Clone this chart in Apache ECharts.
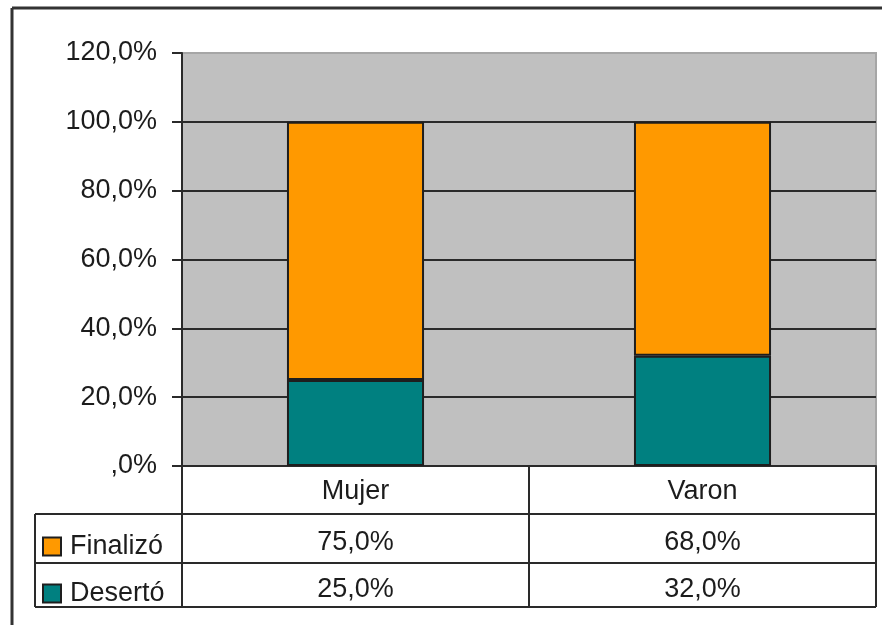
<!DOCTYPE html>
<html>
<head>
<meta charset="utf-8">
<style>
  html, body { margin: 0; padding: 0; background: #ffffff; }
  #chart { width: 882px; height: 625px; }
</style>
<script src="https://cdn.jsdelivr.net/npm/echarts@6/dist/echarts.min.js"></script>
</head>
<body>
<div id="chart"></div>
<script>
// Categories and series values (percent)
const categories = ['Mujer', 'Varon'];
const finalizo = [75.0, 68.0];
const deserto = [25.0, 32.0];
const seriesNames = ['Finalizó', 'Desertó'];
const yTicks = [0, 20, 40, 60, 80, 100, 120];

const FONT = 'Liberation Sans, Arial, sans-serif';
const TEXT = '#1c1c1c';
const FS = 27;

// Plot area geometry
const G = { left: 182, top: 53, right: 6, bottom: 159 };
const W = 882, H = 625;
const gx0 = G.left, gx1 = W - G.right, gy1 = H - G.bottom;
const rowY = [gy1, gy1 + 48, gy1 + 97, gy1 + 141]; // table row boundaries
const tableLeft = 35;
const midX = (gx0 + gx1) / 2;

const fmt = v => v.toFixed(1).replace('.', ',') + '%';
const fmtTick = v => (v === 0 ? ',0' : v.toFixed(1).replace('.', ',')) + '%';

const chart = echarts.init(document.getElementById('chart'), null, { renderer: 'canvas' });

const lineStyle = { stroke: '#2a2a2a', lineWidth: 2 };
const hLine = (x1, x2, y) => ({ type: 'line', shape: { x1, y1: y, x2, y2: y }, style: lineStyle, silent: true });
const vLine = (x, y1, y2) => ({ type: 'line', shape: { x1: x, y1, x2: x, y2 }, style: lineStyle, silent: true });

const labelAxis = (margin, formatter) => ({
  type: 'category',
  data: categories,
  position: 'bottom',
  axisLine: { show: false },
  axisTick: { show: false },
  splitLine: { show: false },
  axisLabel: {
    margin,
    verticalAlign: 'middle',
    fontFamily: FONT, fontSize: FS, color: TEXT,
    formatter
  }
});

chart.setOption({
  animation: false,
  backgroundColor: '#ffffff',
  textStyle: { fontFamily: FONT },
  grid: {
    left: G.left, top: G.top, right: G.right, bottom: G.bottom,
    show: true, backgroundColor: '#c0c0c0', borderColor: '#a6a6a6', borderWidth: 2
  },
  legend: {
    data: seriesNames,
    orient: 'vertical',
    left: 37,
    top: rowY[1] + 14,
    itemWidth: 18,
    itemHeight: 18,
    itemGap: 20,
    icon: 'rect',
    selectedMode: false,
    textStyle: { fontFamily: FONT, fontSize: FS, color: TEXT, padding: [0, 0, 0, 4] }
  },
  xAxis: [
    {
      type: 'category',
      data: categories,
      axisLine: { show: true, lineStyle: { color: '#2a2a2a', width: 2 } },
      axisTick: { show: false },
      axisLabel: { margin: 26, verticalAlign: 'middle', fontFamily: FONT, fontSize: FS, color: TEXT }
    },
    labelAxis(77, (v, i) => fmt(finalizo[i])),
    labelAxis(124, (v, i) => fmt(deserto[i]))
  ],
  yAxis: {
    type: 'value',
    min: yTicks[0],
    max: yTicks[yTicks.length - 1],
    interval: 20,
    axisLine: { show: true, lineStyle: { color: '#2a2a2a', width: 2 } },
    axisTick: { show: true, length: 10, lineStyle: { color: '#2a2a2a', width: 2 } },
    axisLabel: {
      margin: 25, fontFamily: FONT, fontSize: FS, color: TEXT,
      padding: [5, 0, 0, 0],
      formatter: v => fmtTick(v)
    },
    splitLine: { show: true, showMinLine: false, showMaxLine: false, lineStyle: { color: '#2a2a2a', width: 2 } }
  },
  series: [
    {
      name: seriesNames[1],
      type: 'bar',
      stack: 'total',
      barWidth: '39.5%',
      data: deserto,
      itemStyle: { color: '#008080', borderColor: '#1e1e1e', borderWidth: 2 }
    },
    {
      name: seriesNames[0],
      type: 'bar',
      stack: 'total',
      barWidth: '39.5%',
      data: finalizo,
      itemStyle: { color: '#ff9900', borderColor: '#1e1e1e', borderWidth: 2 }
    }
  ],
  graphic: [
    // outer frame
    { type: 'line', shape: { x1: 12, y1: 8, x2: W, y2: 8 }, style: { stroke: '#333', lineWidth: 3 }, silent: true },
    { type: 'line', shape: { x1: 12, y1: 8, x2: 12, y2: H }, style: { stroke: '#333', lineWidth: 3 }, silent: true },
    // data table grid
    vLine(gx0, rowY[0], rowY[3]),
    vLine(midX, rowY[0], rowY[3]),
    vLine(gx1, rowY[0], rowY[3]),
    vLine(tableLeft, rowY[1], rowY[3]),
    hLine(tableLeft, gx1, rowY[1]),
    hLine(tableLeft, gx1, rowY[2]),
    hLine(tableLeft, gx1, rowY[3])
  ]
});
</script>
</body>
</html>
